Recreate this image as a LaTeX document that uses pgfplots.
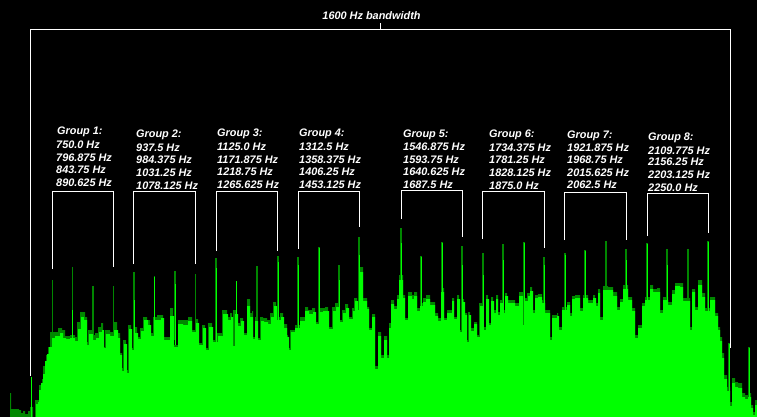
\documentclass[border=0pt]{standalone}
\usepackage{fontspec}
\setmainfont{Liberation Sans}
\usepackage{pgfplots}
\pgfplotsset{compat=1.18}
\definecolor{specdark}{RGB}{0,135,0}
\definecolor{specbright}{RGB}{0,255,0}
\tikzset{lab/.style={anchor=west,text=white,font=\fontsize{10.9}{12}\selectfont\bfseries\itshape,inner sep=0pt}}
\begin{document}
\begin{tikzpicture}
\fill[black] (0,0) rectangle (757pt,417pt);
\begin{axis}[
 at={(0,0)},anchor=south west,
 width=757pt,height=417pt,scale only axis,
 xmin=0,xmax=757,ymin=0,ymax=417,y dir=reverse,
 axis lines=none,clip=true,
 unbounded coords=jump,
]
% dark envelope
\addplot[const plot,fill=specdark,draw=none,forget plot] coordinates {
(0,417)(10,393)(11,409)(19,410)(21,413)(23,411)(25,414)(28,411)(30,407)(33,417)(35,400)(37,400)(39,385)(42,379)(43,366)(46,355)(48,347)(50,332)
(53,332)(58,328)(62,330)(65,336)(70,335)(75,337)(77,322)(80,312)(82,312)(85,317)(87,342)(88,330)(92,335)(95,333)(98,327)(101,323)(103,347)(105,330)(110,332)(113,322)(117,333)(120,353)(122,368)(123,340)(126,370)(128,325)(131,348)(133,327)(137,337)(140,328)(143,317)(147,320)(150,333)(153,317)(157,315)(160,315)(163,337)(170,308)(173,345)(178,320)(183,320)(188,317)(192,330)(195,319)(198,343)(202,325)(205,348)(208,323)(212,340)(217,333)(222,310)(227,317)(230,313)(232,345)(233,310)(237,323)(240,318)(243,333)(247,299)
(250,313)(252,311)(253,337)(255,317)(257,338)(260,317)(263,318)(267,320)(270,313)(273,302)(276,317)(280,313)(283,324)(287,335)(288,348)(290,330)(295,325)(300,317)(305,307)(308,310)(312,308)(315,322)(318,308)(322,308)(325,307)(328,327)(332,307)(335,303)(338,320)(342,310)(345,304)(348,317)(352,308)(354,298)(357,308)(360,267)(363,298)(367,307)(369,328)(372,314)(375,366)(378,332)(381,355)(384,336)(387,355)(389,323)(391,300)(394,306)(397,295)(399,275)(403,295)(405,318)(408,292)(412,295)(414,292)(417,308)(420,303)(423,298)(426,295)(430,302)(435,313)(438,318)(441,288)(444,318)(447,310)(452,298)(454,317)(457,295)(459,330)(462,299)(464,313)(467,340)(468,312)(470,328)(474,322)(477,335)(479,303)(482,327)(486,295)(488,323)(491,297)(493,310)(496,295)(498,312)
(500,300)(503,310)(505,293)(507,300)(512,300)(515,303)(519,292)(523,323)(525,298)(527,293)(530,287)(532,310)(535,295)(538,294)(542,300)(545,310)(550,337)(552,315)(557,313)(558,327)(562,307)(567,302)(570,313)(572,296)(575,295)(580,308)(583,295)(588,300)(593,295)(595,303)(598,289)(600,317)(603,286)(608,287)(613,292)(617,307)(620,299)(623,285)(628,297)(632,308)(635,335)(638,325)(642,303)(645,297)(650,285)(653,289)(657,288)(660,310)(663,297)(668,302)(672,290)(675,283)(680,283)(683,298)(690,327)(692,289)(695,307)(698,280)(702,293)(705,308)(710,297)(715,313)(718,327)(720,337)(722,353)(724,375)(727,387)(730,402)(732,378)(735,382)(738,383)(742,393)(745,395)(748,393)(751,405)(753,412)(755,400)(757,398)(757,417)
} -- cycle;
% dark spikes
\addplot[specdark,line width=1.1pt,forget plot] coordinates {
(52.5,280)(52.5,340)(52.5,nan)(72.5,267)(72.5,340)(72.5,nan)(93,286)(93,340)(93,nan)(113.5,286)(113.5,340)(113.5,nan)(134,272)(134,340)(134,nan)(154.5,276)(154.5,340)(154.5,nan)(175,271)(175,340)(175,nan)(195.5,274)(195.5,340)(195.5,nan)(216,258)(216,340)(216,nan)(236.5,281)(236.5,340)(236.5,nan)
(257,266)(257,340)(257,nan)(278,256)(278,340)(278,nan)(298,257)(298,340)(298,nan)(319,247)(319,340)(319,nan)(339,265)(339,340)(339,nan)(359,237)(359,340)(359,nan)(401,228)(401,340)(401,nan)(421,256)(421,340)(421,nan)(442,242)(442,340)(442,nan)(462,246)(462,340)(462,nan)(483,253)(483,340)(483,nan)
(503,244)(503,340)(503,nan)(524,242)(524,340)(524,nan)(544,257)(544,340)(544,nan)(565,253)(565,340)(565,nan)(585,250)(585,340)(585,nan)(606,241)(606,340)(606,nan)(626,249)(626,340)(626,nan)(647,243)(647,340)(647,nan)(667,249)(667,340)(667,nan)(688,249)(688,340)(688,nan)(708,241)(708,340)(708,nan)(729,343)(729,410)(729,nan)(749,347)(749,410)
};
% bright spikes
\addplot[specbright,line width=0.9pt,forget plot] coordinates {
(31.5,377)(31.5,417)(31.5,nan)(72.5,310)(72.5,345)(72.5,nan)(134,300)(134,345)(134,nan)(154.5,277)(154.5,345)(154.5,nan)(175,284)(175,345)(175,nan)(216,268)(216,345)(216,nan)(236.5,281)(236.5,345)(236.5,nan)
(278,262)(278,345)(278,nan)(298,265)(298,345)(298,nan)(319,248)(319,345)(319,nan)(339,280)(339,345)(339,nan)(359,255)(359,345)(359,nan)(401,243)(401,345)(401,nan)(421,257)(421,345)(421,nan)(442,243)(442,345)(442,nan)(462,265)(462,345)(462,nan)(483,275)(483,345)(483,nan)
(503,260)(503,345)(503,nan)(524,243)(524,345)(524,nan)(544,265)(544,345)(544,nan)(565,255)(565,345)(565,nan)(585,251)(585,345)(585,nan)(626,260)(626,345)(626,nan)(647,244)(647,345)(647,nan)(667,265)(667,345)(667,nan)(708,242)(708,345)(708,nan)(729,344)(729,410)(729,nan)(749,348)(749,410)
};
% bright body
\addplot[const plot,fill=specbright,draw=none,forget plot] coordinates {
(33,417)(36,404)(38,402)(39,390)(41,383)(43,374)(45,361)(47,354)(49,347)(52,338)
(55,336)(60,333)(63,338)(66,339)(70,338)(75,341)(78,329)(81,317)(84,320)(87,345)(89,334)(93,340)(96,338)(99,332)(102,330)(104,348)(106,334)(110,336)(114,330)(118,338)(120,355)(122,371)(124,344)(127,373)(129,329)(132,350)(134,333)(138,339)(141,331)(144,320)(148,325)(151,336)(154,320)(158,320)(161,318)(164,340)(170,316)(174,347)(178,324)(183,325)(188,321)(192,332)(196,323)(199,345)(203,328)(206,350)(209,327)(213,342)(218,336)(223,314)(228,320)(231,317)(233,346)(235,314)(238,326)(241,321)(244,335)(247,306)
(250,317)(253,339)(255,321)(258,340)(261,321)(264,322)(268,324)(271,317)(274,306)(277,320)(281,317)(284,328)(287,337)(289,350)(291,332)(295,328)(300,321)(305,311)(309,314)(313,312)(316,324)(319,312)(323,311)(326,311)(329,329)(333,311)(336,307)(339,322)(343,313)(346,308)(349,319)(353,311)(355,301)(358,310)(360,272)(363,301)(367,309)(369,330)(372,317)(375,369)(378,336)(381,358)(384,340)(387,358)(389,328)(391,304)(394,309)(397,299)(399,280)(403,298)(405,320)(408,296)(412,299)(414,296)(417,311)(420,306)(423,302)(426,299)(430,305)(435,316)(438,321)(441,292)(444,320)(447,313)(452,301)(454,319)(457,299)(460,332)(463,302)(465,315)(467,342)(469,315)(471,331)(474,324)(477,337)(480,306)(483,330)(486,299)(489,325)(491,301)(494,313)(496,299)(498,315)
(500,303)(503,313)(505,296)(508,303)(512,303)(515,306)(519,296)(523,325)(525,301)(528,296)(530,291)(533,313)(535,298)(538,297)(542,303)(545,313)(550,340)(552,318)(557,316)(559,330)(562,310)(567,305)(570,316)(572,299)(575,298)(580,311)(583,298)(588,303)(593,298)(596,306)(598,293)(600,320)(603,290)(608,290)(613,296)(617,310)(620,302)(623,289)(628,300)(632,311)(635,338)(638,328)(642,306)(645,300)(650,289)(653,292)(657,292)(660,313)(663,300)(668,305)(672,294)(675,286)(680,287)(683,301)(690,330)(692,292)(695,310)(698,285)(702,297)(705,311)(710,300)(715,316)(718,330)(720,341)(722,358)(724,379)(727,391)(730,406)(732,383)(735,387)(738,388)(742,397)(745,399)(748,397)(751,408)(753,415)(755,405)(757,403)(757,417)
} -- cycle;
% brackets
\addplot[white,line width=1pt,forget plot] coordinates {
(30.5,376)(30.5,29.5)(730,29.5)(730,348)(730,nan)(380,29.5)(380,23)(380,nan)
(52.5,269)(52.5,191.5)(113.5,191.5)(113.5,267)(113.5,nan)
(133.5,264)(133.5,191.5)(195.5,191.5)(195.5,264)(195.5,nan)
(216.5,251)(216.5,191.5)(277.5,191.5)(277.5,251)(277.5,nan)
(298.5,249)(298.5,191.5)(359,191.5)(359,227)(359,nan)
(401,219)(401,190.5)(462,190.5)(462,237)(462,nan)
(482,239)(482,191.5)(544,191.5)(544,248)(544,nan)
(564,240)(564,192.5)(626,192.5)(626,240)(626,nan)
(647,236)(647,193.5)(708,193.5)(708,233)
};
\node[lab,anchor=center] at (axis cs:371.5,15.5) {1600 Hz bandwidth};
% group 1
\node[lab] at (axis cs:57,132) {Group 1:};
\node[lab] at (axis cs:56,144.5) {750.0 Hz};
\node[lab] at (axis cs:56,157.5) {796.875 Hz};
\node[lab] at (axis cs:56,170) {843.75 Hz};
\node[lab] at (axis cs:56,182.5) {890.625 Hz};
% group 2
\node[lab] at (axis cs:136,134.5) {Group 2:};
\node[lab] at (axis cs:136,147.5) {937.5 Hz};
\node[lab] at (axis cs:136,160) {984.375 Hz};
\node[lab] at (axis cs:136,172.5) {1031.25 Hz};
\node[lab] at (axis cs:136,185.5) {1078.125 Hz};
% group 3
\node[lab] at (axis cs:217,133.5) {Group 3:};
\node[lab] at (axis cs:217,146.5) {1125.0 Hz};
\node[lab] at (axis cs:217,159.5) {1171.875 Hz};
\node[lab] at (axis cs:217,172) {1218.75 Hz};
\node[lab] at (axis cs:217,184.5) {1265.625 Hz};
% group 4
\node[lab] at (axis cs:299,133.5) {Group 4:};
\node[lab] at (axis cs:299,146.5) {1312.5 Hz};
\node[lab] at (axis cs:299,159.5) {1358.375 Hz};
\node[lab] at (axis cs:299,172) {1406.25 Hz};
\node[lab] at (axis cs:299,184.5) {1453.125 Hz};
% group 5
\node[lab] at (axis cs:403,134.5) {Group 5:};
\node[lab] at (axis cs:403,146.5) {1546.875 Hz};
\node[lab] at (axis cs:403,159.5) {1593.75 Hz};
\node[lab] at (axis cs:403,172) {1640.625 Hz};
\node[lab] at (axis cs:403,184.5) {1687.5 Hz};
% group 6
\node[lab] at (axis cs:489,134.5) {Group 6:};
\node[lab] at (axis cs:489,147.5) {1734.375 Hz};
\node[lab] at (axis cs:489,160) {1781.25 Hz};
\node[lab] at (axis cs:489,172.5) {1828.125 Hz};
\node[lab] at (axis cs:489,185.5) {1875.0 Hz};
% group 7
\node[lab] at (axis cs:567,135.5) {Group 7:};
\node[lab] at (axis cs:567,148) {1921.875 Hz};
\node[lab] at (axis cs:567,160) {1968.75 Hz};
\node[lab] at (axis cs:567,172.5) {2015.625 Hz};
\node[lab] at (axis cs:567,184.5) {2062.5 Hz};
% group 8
\node[lab] at (axis cs:648,137.5) {Group 8:};
\node[lab] at (axis cs:648,150.5) {2109.775 Hz};
\node[lab] at (axis cs:648,162) {2156.25 Hz};
\node[lab] at (axis cs:648,174.5) {2203.125 Hz};
\node[lab] at (axis cs:648,187.5) {2250.0 Hz};
\end{axis}
\end{tikzpicture}
\end{document}
